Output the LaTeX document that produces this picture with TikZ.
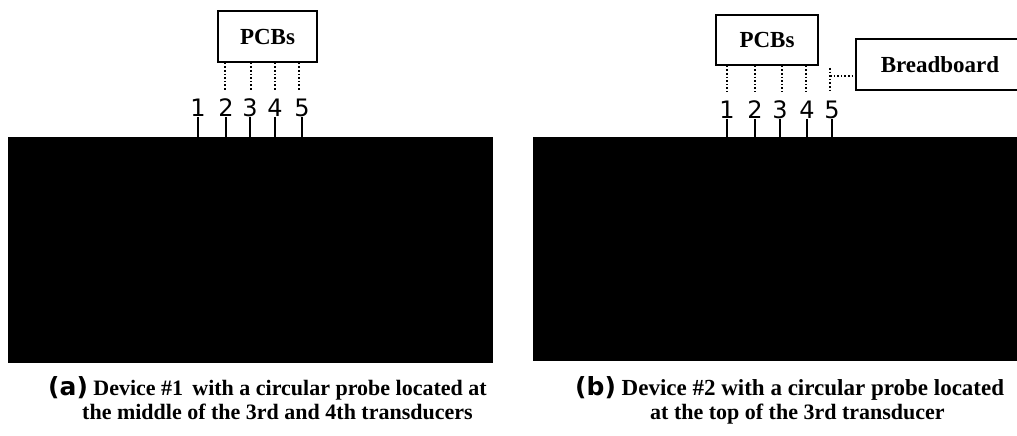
\documentclass[tikz,border=0pt]{standalone}
\usepackage{fontspec}
\setmainfont{Liberation Serif}
\newfontfamily\digitfont{DejaVu Sans}
\newcommand\subtag[1]{{\digitfont\fontsize{25}{25}\selectfont #1}}
\begin{document}
\begin{tikzpicture}[x=1pt,y=-1pt]
\tikzset{
  board/.style={fill=black, draw=none},
  pcbbox/.style={draw, line width=1.6pt, inner sep=0pt,
    font=\bfseries\fontsize{23}{23}\selectfont},
  num/.style={inner sep=0pt, font=\digitfont\fontsize{24}{24}\selectfont},
  tickline/.style={line width=1.8pt},
  wire/.style={dotted, line width=1.6pt},
  captext/.style={inner sep=0pt, anchor=base west,
    font=\bfseries\fontsize{22}{24}\selectfont}
}
\clip (0,0) rectangle (1017,436);
\useasboundingbox (0,0) rectangle (1017,436);

% ---------- (a) device #1 ----------
\node[board, minimum width=485pt, minimum height=226pt, anchor=north west, inner sep=0pt] (A) at (8,137) {};
\node[pcbbox, minimum width=99pt, minimum height=51pt] (pcbA) at (267.5,36.5) {PCBs};

\foreach \i/\x in {1/198,2/226,3/250,4/275,5/302}{
  \node[num] (a\i) at (\x,108) {\i};
  \draw[tickline] (a\i.south) -- (a\i.south |- A.north);
}
\foreach \i/\x in {2/225,3/251,4/275,5/299}{
  \coordinate (wa\i) at (\x,90);
  \draw[wire] (wa\i |- pcbA.south) -- (wa\i);
}

\node[captext] (capA1) at (48,395) {\subtag{(a)} Device \#1\, with a circular probe located at};
\node[captext] (capA2) at (82,419) {the middle of the 3rd and 4th transducers};

% ---------- (b) device #2 ----------
\node[board, minimum width=490pt, minimum height=224pt, anchor=north west, inner sep=0pt] (B) at (533,137) {};
\node[pcbbox, minimum width=102pt, minimum height=50pt] (pcbB) at (767,40) {PCBs};
\node[draw, line width=1.6pt, anchor=west, inner xsep=25pt, inner ysep=0pt,
      text width=150pt, align=left, minimum height=51pt,
      font=\bfseries\fontsize{23}{23}\selectfont] (bb) at (855,64.5) {Breadboard};

\foreach \i/\x in {1/727,2/755,3/780,4/807,5/832}{
  \node[num] (b\i) at (\x,110) {\i};
  \draw[tickline] (b\i.south) -- (b\i.south |- B.north);
}
\foreach \i/\x in {1/727,2/755,3/782,4/806}{
  \coordinate (wb\i) at (\x,92);
  \draw[wire] (wb\i |- pcbB.south) -- (wb\i);
}
\coordinate (wb5top) at (830,68);
\coordinate (wb5) at (830,92);
\draw[wire] (wb5top) -- (wb5);
\draw[wire] (wb5top |- 0,76) -- (bb.west |- 0,76);

\node[captext, font=\bfseries\fontsize{23}{24}\selectfont] (capB1) at (575,395) {\subtag{(b)} Device \#2 with a circular probe located};
\node[captext] (capB2) at (650,419) {at the top of the 3rd transducer};
\end{tikzpicture}
\end{document}
